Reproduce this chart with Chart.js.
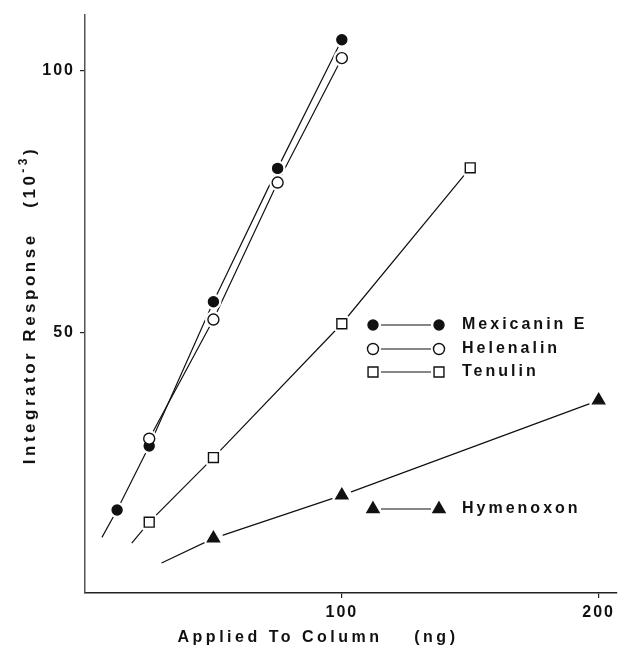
<!DOCTYPE html>
<html>
<head>
<meta charset="utf-8">
<script src="https://cdn.jsdelivr.net/npm/chart.js@4.4.1/dist/chart.umd.min.js"></script>
<style>
  body { margin: 0; background: #fff; }
  canvas { display: block; }
</style>
</head>
<body>
<canvas id="responseChart" width="620" height="649"></canvas>
<script>
// amount applied to column (ng) and integrator response (10^-3)
const mexicaninX = [12.5, 25, 50, 75, 100];
const mexicaninY = [16.2, 28.4, 55.9, 81.3, 105.8];
const helenalinX = [25, 50, 75, 100];
const helenalinY = [29.8, 52.5, 78.6, 102.3];
const tenulinX = [25, 50, 100, 150];
const tenulinY = [13.9, 26.2, 51.7, 81.4];
const hymenoxonX = [50, 100, 200];
const hymenoxonY = [10.8, 19.0, 37.1];

// the drawn lines run on a little below the first point
const mexicaninLineStart = [6.6, 11.0];
const tenulinLineStart = [18.2, 9.9];
const hymenoxonLineStart = [29.8, 6.1];

const xTicks = [100, 200];
const yTicks = [50, 100];

const FONT = 'Liberation Sans, Arial, sans-serif';
const INK = '#111';

function series(label, xs, ys, start, style, filled, r) {
    const pts = xs.map((x, i) => ({ x: x, y: ys[i] }));
    if (start) pts.unshift({ x: start[0], y: start[1] });
    return {
        label: label,
        data: pts,
        showLine: true,
        borderColor: INK,
        borderWidth: 1.2,
        tension: 0,
        pointStyle: style,
        pointRadius: pts.map((p, i) => (start && i === 0) ? 0 : r),
        pointBackgroundColor: filled ? INK : '#fff',
        pointBorderColor: INK,
        pointBorderWidth: 1.4
    };
}

// small marker used by the legend
function marker(ctx, style, filled, r, x, y) {
    ctx.beginPath();
    if (style === 'circle') {
        ctx.arc(x, y, r, 0, Math.PI * 2);
    } else if (style === 'rect') {
        const s = r * Math.SQRT1_2;
        ctx.rect(x - s, y - s, 2 * s, 2 * s);
    } else {
        ctx.moveTo(x, y - r);
        ctx.lineTo(x + r * 0.866, y + r * 0.5);
        ctx.lineTo(x - r * 0.866, y + r * 0.5);
        ctx.closePath();
    }
    ctx.fillStyle = filled ? INK : '#fff';
    ctx.fill();
    ctx.lineWidth = 1.4;
    ctx.strokeStyle = INK;
    ctx.stroke();
}

const legendRows = [
    { text: 'Mexicanin E', style: 'circle', filled: true, r: 5, y: 325 },
    { text: 'Helenalin', style: 'circle', filled: false, r: 5.5, y: 349 },
    { text: 'Tenulin', style: 'rect', filled: false, r: 7, y: 372 },
    { text: 'Hymenoxon', style: 'triangle', filled: true, r: 7, y: 509 }
];

const figurePlugin = {
    id: 'figure',
    beforeLayout(chart) { chart.ctx.letterSpacing = '2px'; },
    beforeDraw(chart) { chart.ctx.letterSpacing = '2px'; },
    afterDatasetsDraw(chart) {
        // white gap round each marker, then the markers again
        const ctx = chart.ctx;
        const metas = chart.getSortedVisibleDatasetMetas();
        ctx.save();
        ctx.fillStyle = '#fff';
        metas.forEach(meta => meta.data.forEach(pt => {
            if (pt.options.radius < 0.1) return;
            ctx.beginPath();
            ctx.arc(pt.x, pt.y, pt.options.radius + 3, 0, Math.PI * 2);
            ctx.fill();
        }));
        ctx.restore();
        metas.forEach(meta => meta.data.forEach(pt => pt.draw(ctx, chart.chartArea)));
    },
    afterDraw(chart) {
        const ctx = chart.ctx;
        ctx.save();
        ctx.font = 'bold 16px ' + FONT;
        ctx.fillStyle = INK;
        ctx.textBaseline = 'middle';
        ctx.letterSpacing = '3px';
        legendRows.forEach(row => {
            ctx.beginPath();
            ctx.moveTo(381, row.y);
            ctx.lineTo(431, row.y);
            ctx.lineWidth = 1.2;
            ctx.strokeStyle = INK;
            ctx.stroke();
            marker(ctx, row.style, row.filled, row.r, 373, row.y);
            marker(ctx, row.style, row.filled, row.r, 439, row.y);
            ctx.fillStyle = INK;
            ctx.textAlign = 'left';
            ctx.fillText(row.text, 462, row.y);
        });

        // x axis title
        ctx.letterSpacing = '3.5px';
        ctx.textAlign = 'center';
        ctx.fillText('Applied To Column    (ng)', 318, 638);

        // y axis title with superscript, rotated
        ctx.translate(30, 305);
        ctx.rotate(-Math.PI / 2);
        ctx.textAlign = 'left';
        const mainFont = 'bold 17px ' + FONT;
        const supFont = 'bold 12px ' + FONT;
        ctx.letterSpacing = '3.5px';
        const partA = 'Integrator Response   (10';
        const partB = '-3';
        const partC = ')';
        ctx.font = mainFont;
        const wA = ctx.measureText(partA).width;
        const wC = ctx.measureText(partC).width;
        ctx.font = supFont;
        const wB = ctx.measureText(partB).width;
        let x = -(wA + wB + wC) / 2;
        ctx.font = mainFont;
        ctx.fillText(partA, x, 0);
        x += wA;
        ctx.font = supFont;
        ctx.fillText(partB, x, -6);
        x += wB;
        ctx.font = mainFont;
        ctx.fillText(partC, x, 0);
        ctx.restore();
    }
};

const axisGrid = { drawOnChartArea: false, drawTicks: true, tickLength: 5, color: '#222', lineWidth: 1.2 };
const tickFont = { family: FONT, size: 16, weight: 'bold' };

const ctxResponse = document.getElementById('responseChart').getContext('2d');
const responseChart = new Chart(ctxResponse, {
    type: 'scatter',
    data: {
        datasets: [
            series('Mexicanin E', mexicaninX, mexicaninY, mexicaninLineStart, 'circle', true, 5),
            series('Helenalin', helenalinX, helenalinY, null, 'circle', false, 5.5),
            series('Tenulin', tenulinX, tenulinY, tenulinLineStart, 'rect', false, 7),
            series('Hymenoxon', hymenoxonX, hymenoxonY, hymenoxonLineStart, 'triangle', true, 7)
        ]
    },
    options: {
        responsive: false,
        animation: false,
        layout: { padding: { top: 13, left: 0, right: 0, bottom: 0 }, autoPadding: false },
        plugins: { legend: { display: false }, tooltip: { enabled: false } },
        scales: {
            x: {
                type: 'linear',
                min: 0,
                max: 207,
                afterBuildTicks: s => { s.ticks = xTicks.map(v => ({ value: v })); },
                afterFit: s => { s.height = 56; },
                grid: axisGrid,
                border: { color: '#222', width: 1.5 },
                ticks: { color: INK, font: tickFont, padding: 5, maxRotation: 0, autoSkip: false }
            },
            y: {
                type: 'linear',
                min: 0.4,
                max: 110.6,
                afterBuildTicks: s => { s.ticks = yTicks.map(v => ({ value: v })); },
                afterFit: s => { s.width = 85; },
                grid: axisGrid,
                border: { color: '#555', width: 1.5 },
                ticks: { color: INK, font: tickFont, padding: 5, autoSkip: false }
            }
        }
    },
    plugins: [figurePlugin]
});
</script>
</body>
</html>
